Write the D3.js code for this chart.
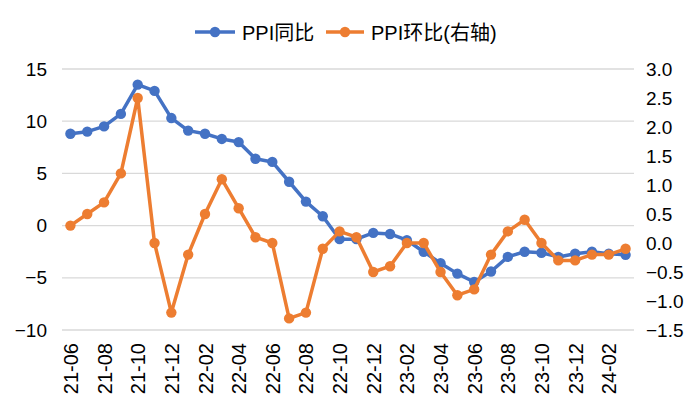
<!DOCTYPE html>
<html><head><meta charset="utf-8">
<script src="https://cdn.jsdelivr.net/npm/d3@7"></script>
<style>body{margin:0;background:#fff;} text{font-family:"Liberation Sans","Noto Sans CJK SC",Arial,sans-serif;fill:#000;}</style>
</head><body><svg id="c" width="700" height="420"></svg>
<script>
const months = ["21-06","21-07","21-08","21-09","21-10","21-11","21-12","22-01","22-02","22-03","22-04","22-05","22-06","22-07","22-08","22-09","22-10","22-11","22-12","23-01","23-02","23-03","23-04","23-05","23-06","23-07","23-08","23-09","23-10","23-11","23-12","24-01","24-02","24-03"];
const ppiYoY = [8.8,9.0,9.5,10.7,13.5,12.9,10.3,9.1,8.8,8.3,8.0,6.4,6.1,4.2,2.3,0.9,-1.3,-1.3,-0.7,-0.8,-1.4,-2.5,-3.6,-4.6,-5.4,-4.4,-3.0,-2.5,-2.6,-3.0,-2.7,-2.5,-2.7,-2.8];
const ppiMoM = [0.3,0.5,0.7,1.2,2.5,0.0,-1.2,-0.2,0.5,1.1,0.6,0.1,0.0,-1.3,-1.2,-0.1,0.2,0.1,-0.5,-0.4,0.0,0.0,-0.5,-0.9,-0.8,-0.2,0.2,0.4,0.0,-0.3,-0.3,-0.2,-0.2,-0.1];
const leftTicks = [15,10,5,0,-5,-10];
const rightTicks = [3.0,2.5,2.0,1.5,1.0,0.5,0.0,-0.5,-1.0,-1.5];
const seriesNames = ["PPI同比","PPI环比(右轴)"];
const colors = ["#4472C4","#ED7D31"];

const svg = d3.select("#c");
const L=62, R=634, T=69, B=330;
const x = d3.scalePoint().domain(months).range([L,R]).padding(0.5);
const yL = d3.scaleLinear().domain([-10,15]).range([B,T]);
const yR = d3.scaleLinear().domain([-1.5,3.0]).range([B,T]);

// gridlines
svg.append("g").selectAll("line").data(leftTicks).join("line")
  .attr("x1",L).attr("x2",R).attr("y1",d=>yL(d)).attr("y2",d=>yL(d))
  .attr("stroke","#d9d9d9").attr("stroke-width",1.3);

// left axis
const axL = svg.append("g").attr("transform",`translate(${L-12},0)`)
  .call(d3.axisLeft(yL).tickValues(leftTicks).tickSize(0).tickFormat(d3.format("d")));
axL.select(".domain").remove();
axL.selectAll("text").attr("font-size",19).style("font-family","Liberation Sans, Arial, sans-serif");

// right axis
const axR = svg.append("g").attr("transform",`translate(${R+9},0)`)
  .call(d3.axisRight(yR).tickValues(rightTicks).tickSize(0).tickFormat(d3.format(".1f")));
axR.select(".domain").remove();
axR.selectAll("text").attr("font-size",19).style("font-family","Liberation Sans, Arial, sans-serif");

// x axis
const xTicks = months.filter((d,i)=>i%2===0);
const axX = svg.append("g").attr("transform",`translate(0,${B+13})`)
  .call(d3.axisBottom(x).tickValues(xTicks).tickSize(0));
axX.select(".domain").remove();
axX.selectAll("text").attr("font-size",20).style("font-family","Liberation Sans, Arial, sans-serif")
  .attr("transform","rotate(-90)").attr("text-anchor","end").attr("dx",0).attr("dy","0.35em").attr("x",0).attr("y",0);

// lines
function drawSeries(vals, ys, color){
  const line = d3.line().x((d,i)=>x(months[i])).y(d=>ys(d));
  svg.append("path").datum(vals).attr("d",line).attr("fill","none")
    .attr("stroke",color).attr("stroke-width",3.5).attr("stroke-linejoin","round");
  svg.append("g").selectAll("circle").data(vals).join("circle")
    .attr("cx",(d,i)=>x(months[i])).attr("cy",d=>ys(d)).attr("r",5.2).attr("fill",color);
}
drawSeries(ppiYoY, yL, colors[0]);
drawSeries(ppiMoM, yR, colors[1]);

// legend
const leg = [{x:195,w:40,tx:242,name:seriesNames[0],c:colors[0]},{x:326,w:38,tx:371,name:seriesNames[1],c:colors[1]}];
const lg = svg.append("g");
leg.forEach(l=>{
  lg.append("line").attr("x1",l.x).attr("x2",l.x+l.w).attr("y1",32).attr("y2",32).attr("stroke",l.c).attr("stroke-width",3.5);
  lg.append("circle").attr("cx",l.x+l.w/2).attr("cy",32).attr("r",5.2).attr("fill",l.c);
  lg.append("text").attr("x",l.tx).attr("y",33).attr("dy","0.35em").attr("font-size",20).text(l.name);
});
</script></body></html>
